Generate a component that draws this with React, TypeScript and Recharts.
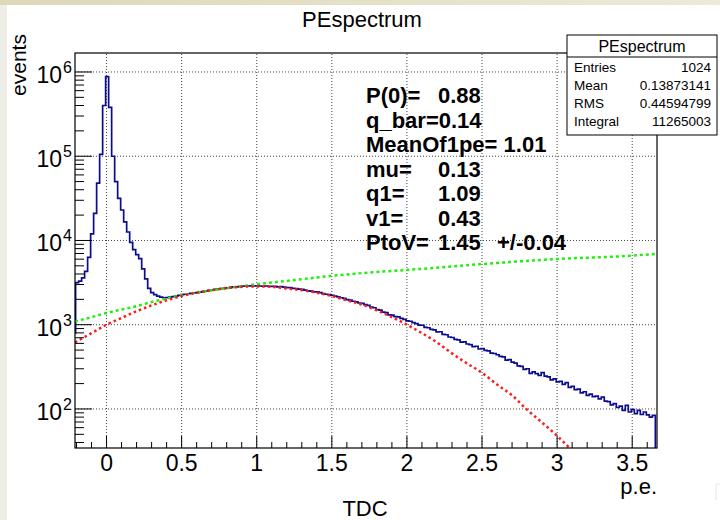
import React from "react"
import { ComposedChart, Line, XAxis, YAxis, ReferenceLine } from "recharts"

// histogram: bins of 0.02 p.e. starting at -0.206 (first sliver below is the underflow edge)
const binStart = -0.206
const binWidth = 0.02
const edgeCount = 800
const counts = [
  3160, 3300, 3600, 4300, 6300, 12000, 21000, 48000, 105000, 400000,
  880000, 380000, 100000, 50000, 31600, 23000, 16600, 12600, 9500, 7800,
  6800, 6100, 4600, 3500, 2700, 2400, 2280, 2180, 2130, 2090,
  2100, 2120, 2150, 2180, 2230, 2280, 2300, 2330, 2350, 2390,
  2410, 2440, 2470, 2500, 2560, 2570, 2620, 2640, 2680, 2700,
  2740, 2760, 2810, 2820, 2830, 2870, 2880, 2880, 2890, 2880,
  2890, 2880, 2870, 2880, 2860, 2850, 2850, 2820, 2830, 2800,
  2760, 2750, 2700, 2690, 2640, 2620, 2580, 2520, 2500, 2460,
  2450, 2400, 2340, 2300, 2280, 2230, 2190, 2140, 2090, 2050,
  1990, 1960, 1900, 1870, 1810, 1790, 1730, 1700, 1620, 1590,
  1510, 1490, 1410, 1390, 1310, 1300, 1250, 1240, 1190, 1160,
  1110, 1100, 1060, 1030, 990, 985, 930, 920, 880, 870,
  820, 825, 770, 760, 715, 705, 670, 660, 620, 625,
  590, 580, 550, 555, 515, 520, 495, 490, 460, 455,
  440, 420, 415, 380, 385, 360, 350, 325, 320, 295,
  300, 265, 275, 262, 250, 270, 245, 240, 222, 228,
  210, 212, 196, 205, 180, 185, 170, 172, 155, 160,
  145, 150, 140, 142, 132, 138, 124, 122, 112, 116,
  104, 108, 96, 110, 92, 98, 88, 96, 86, 92,
  85, 80, 84,
]

// fitted curves
const fitX = [
  -0.21, -0.1, 0, 0.1, 0.2, 0.3, 0.4, 0.5, 0.6, 0.7, 0.8, 0.9, 1.0, 1.1, 1.2, 1.3, 1.4,
  1.5, 1.6, 1.7, 1.8, 1.9, 2.0, 2.1, 2.2, 2.3, 2.4, 2.5, 2.6, 2.7, 2.8, 2.9, 3.0, 3.1,
]
const fitRed = [
  617, 794, 1000, 1202, 1445, 1698, 1950, 2188, 2399, 2570, 2723, 2818, 2851, 2818, 2692, 2570, 2399,
  2188, 1950, 1738, 1479, 1230, 1000, 794, 617, 457, 347, 269, 195, 145, 98, 69, 48, 32,
]
const bgX = [-0.21, -0.1, 0, 0.1, 0.2, 0.3, 0.4, 0.5, 0.75, 1.0, 1.25, 1.5, 1.75, 2.0, 2.5, 3.0, 3.5, 3.65]
const bgGreen = [1096, 1230, 1380, 1514, 1660, 1862, 2042, 2239, 2630, 3020, 3388, 3802, 4169, 4467, 5248, 6026, 6607, 6918]

const yMin = 34.4
const yMax = 1.68e6
const xMajor = [0, 0.5, 1, 1.5, 2, 2.5, 3, 3.5]
const xTicks = Array.from({ length: 39 }, (_, i) => Math.round(i - 2) / 10)
const yMajor = [100, 1000, 10000, 100000, 1000000]
const yTicks = [40, 50, 60, 70, 80, 90]
  .concat(...yMajor.map((d) => [1, 2, 3, 4, 5, 6, 7, 8, 9].map((k) => k * d)))
  .filter((v) => v >= yMin && v <= yMax)

const statRows = [
  ["Entries", "1024"],
  ["Mean", "0.13873141"],
  ["RMS", "0.44594799"],
  ["Integral", "11265003"],
]
const fitRows = [
  ["P(0)=", "0.88"],
  ["q_bar=0.14", ""],
  ["MeanOf1pe= 1.01", ""],
  ["mu=", "0.13"],
  ["q1=", "1.09"],
  ["v1=", "0.43"],
  ["PtoV=", "1.45"],
]

const FONT = '"Liberation Sans", Arial, Helvetica, sans-serif'
const L = 75
const T = 53
const R = 657
const B = 448

const histData = [{ x: -0.21, y: edgeCount }]
  .concat(counts.map((c, i) => ({ x: binStart + i * binWidth, y: c })))
  .concat([{ x: binStart + counts.length * binWidth, y: 1 }])
const redData = fitX.map((x, i) => ({ x, y: fitRed[i] }))
const greenData = bgX.map((x, i) => ({ x, y: bgGreen[i] }))

function XTick({ x, payload }: any) {
  const v = payload.value
  const major = Math.abs(v * 2 - Math.round(v * 2)) < 1e-6
  return (
    <g>
      <line x1={x} x2={x} y1={B} y2={B - (major ? 12 : 6)} stroke="#000" strokeWidth={1} />
      {major && (
        <text x={x} y={471} textAnchor="middle" fontFamily={FONT} fontSize={23} fill="#000">
          {String(v)}
        </text>
      )}
    </g>
  )
}

function YTick({ y, payload }: any) {
  const v = payload.value
  const lg = Math.log10(v)
  const major = Math.abs(lg - Math.round(lg)) < 1e-9
  return (
    <g>
      <line x1={L} x2={L + (major ? 17 : 9)} y1={y} y2={y} stroke="#000" strokeWidth={1} />
      {major && (
        <text y={y + 11} fontFamily={FONT} fill="#000">
          <tspan x={62} textAnchor="end" fontSize={23}>10</tspan>
          <tspan x={63} y={y + 1} fontSize={16}>{String(Math.round(lg))}</tspan>
        </text>
      )}
    </g>
  )
}

export default function App() {
  return (
    <div style={{ position: "absolute", left: 0, top: 0, width: 720, height: 520, background: "#fff" }}>
      <ComposedChart width={720} height={520} margin={{ top: T, right: 720 - R, bottom: 520 - B - 30, left: L - 60 }}>
        <XAxis
          type="number"
          dataKey="x"
          domain={[-0.21, 3.665]}
          ticks={xTicks}
          interval={0}
          tick={(p: any) => <XTick {...p} />}
          tickLine={false}
          axisLine={false}
          height={30}
          allowDataOverflow
        />
        <YAxis
          type="number"
          dataKey="y"
          scale="log"
          domain={[yMin, yMax]}
          ticks={yTicks}
          interval={0}
          tick={(p: any) => <YTick {...p} />}
          tickLine={false}
          axisLine={false}
          width={60}
          allowDataOverflow
        />
        {xMajor.map((v) => (
          <ReferenceLine key={"gx" + v} x={v} stroke="#444" strokeDasharray="1 2" />
        ))}
        {yMajor.map((v) => (
          <ReferenceLine key={"gy" + v} y={v} stroke="#444" strokeDasharray="1 2" />
        ))}
        <Line
          data={histData}
          dataKey="y"
          type="stepAfter"
          stroke="#0c0c8e"
          strokeWidth={1.7}
          dot={false}
          isAnimationActive={false}
        />
        <Line
          data={greenData}
          dataKey="y"
          type="monotone"
          stroke="#22ee11"
          strokeWidth={2.5}
          strokeDasharray="3 3"
          dot={false}
          isAnimationActive={false}
        />
        <Line
          data={redData}
          dataKey="y"
          type="monotone"
          stroke="#ff1a1a"
          strokeWidth={2.5}
          strokeDasharray="2.5 3"
          dot={false}
          isAnimationActive={false}
        />
      </ComposedChart>

      <svg
        width={720}
        height={520}
        style={{ position: "absolute", left: 0, top: 0, pointerEvents: "none" }}
        fontFamily={FONT}
      >
        <defs>
          <linearGradient id="topband" x1="0" x2="1" y1="0" y2="0">
            <stop offset="0" stopColor="#dcd8b8" />
            <stop offset="1" stopColor="#ecead8" />
          </linearGradient>
        </defs>
        <rect x={0} y={0} width={720} height={5} fill="url(#topband)" />
        <rect x={0} y={5} width={7} height={515} fill="#eeede6" />
        <path d="M716 500 V484 H720" fill="none" stroke="#e4e4e4" strokeWidth={1} />

        <rect x={L} y={T} width={R - L} height={B - T} fill="none" stroke="#000" strokeWidth={1.2} />

        <text x={362} y={27} textAnchor="middle" fontSize={22}>PEspectrum</text>
        <text x={26} y={65} transform="rotate(-90 26 65)" textAnchor="middle" fontSize={21}>events</text>
        <text x={R} y={494} textAnchor="end" fontSize={22}>p.e.</text>
        <text x={365} y={516} textAnchor="middle" fontSize={22}>TDC</text>

        <rect x={567} y={35} width={150} height={100} fill="#fff" stroke="#000" strokeWidth={1} />
        <line x1={567} x2={717} y1={57} y2={57} stroke="#000" strokeWidth={1} />
        <text x={642} y={52} textAnchor="middle" fontSize={16}>PEspectrum</text>
        {statRows.map(([k, v], i) => (
          <g key={k}>
            <text x={574} y={72 + i * 18} fontSize={13.5}>{k}</text>
            <text x={711} y={72 + i * 18} textAnchor="end" fontSize={13.5}>{v}</text>
          </g>
        ))}

        {fitRows.map(([k, v], i) => (
          <g key={k}>
            <text x={366} y={103 + i * 24.5} fontSize={22} fontWeight="bold">{k}</text>
            {v && (
              <text x={438} y={103 + i * 24.5} fontSize={22} fontWeight="bold">{v}</text>
            )}
          </g>
        ))}
        <text x={497} y={103 + 6 * 24.5} fontSize={22} fontWeight="bold">+/-0.04</text>
      </svg>
    </div>
  )
}
